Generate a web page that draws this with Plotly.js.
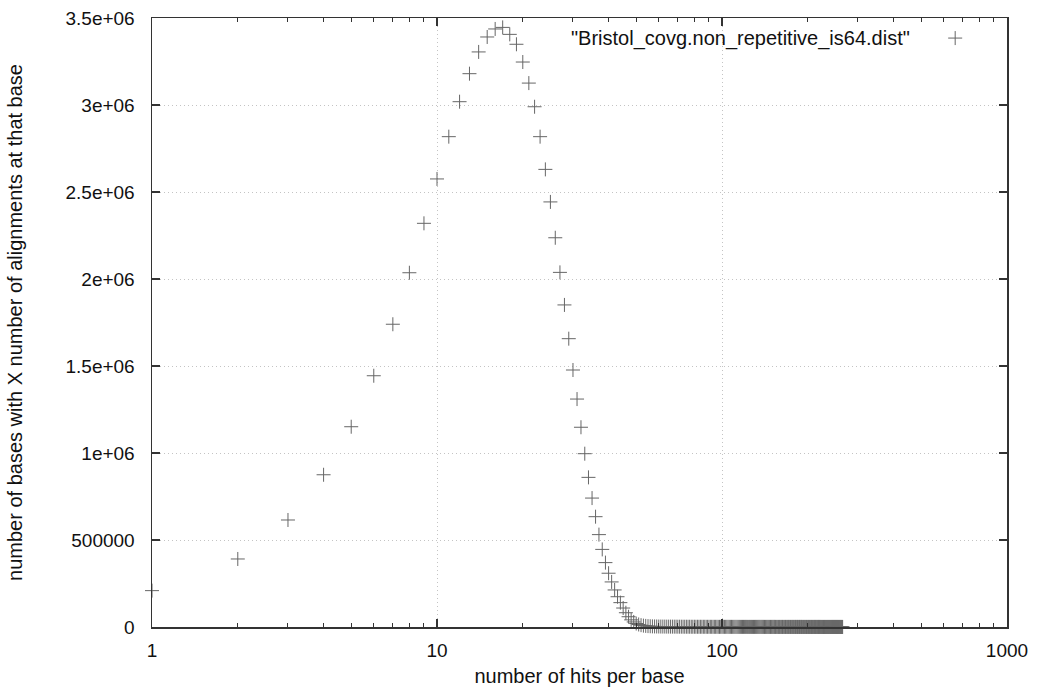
<!DOCTYPE html>
<html>
<head>
<meta charset="utf-8">
<script src="https://cdn.plot.ly/plotly-3.0.1.min.js"></script>
<style>html,body{margin:0;padding:0;background:#fff;}#chart{width:1039px;height:692px;}</style>
</head>
<body>
<div id="chart"></div>
<script>
// number of hits per base (x) — integer coverage values
var hits = [
1,2,3,4,5,6,7,8,9,10,
11,12,13,14,15,16,17,18,19,20,
21,22,23,24,25,26,27,28,29,30,
31,32,33,34,35,36,37,38,39,40,
41,42,43,44,45,46,47,48,49,50,
51,52,53,54,55,56,57,58,59,60,
61,62,63,64,65,66,67,68,69,70,
71,72,73,74,75,76,77,78,79,80,
81,82,83,84,85,86,87,88,89,90,
91,92,93,94,95,96,97,98,99,100,
101,102,103,104,105,106,107,108,109,110,
111,112,113,114,115,116,117,118,119,120,
121,122,123,124,125,126,127,128,129,130,
131,132,133,134,135,136,137,138,139,140,
141,142,143,144,145,146,147,148,149,150,
151,152,153,154,155,156,157,158,159,160,
161,162,163,164,165,166,167,168,169,170,
171,172,173,174,175,176,177,178,179,180,
181,182,183,184,185,186,187,188,189,190,
191,192,193,194,195,196,197,198,199,200,
201,202,203,204,205,206,207,208,209,210,
211,212,213,214,215,216,217,218,219,220,
221,222,223,224,225,226,227,228,229,230,
231,232,233,234,235,236,237,238,239,240,
241,242,243,244,245,246,247,248,249,250,
251,252,253,254,255,256,257,258,259,260,
261,262,263,264,265
];

// number of bases with that many alignments (y)
var bases = [
209000,391000,615000,875000,1151000,1444000,1740000,2036000,2320000,2575000,
2818000,3019000,3180000,3305000,3391000,3437000,3446000,3406000,3349000,3247000,
3126000,2990000,2818000,2630000,2443000,2237000,2038000,1851000,1657000,1477000,
1310000,1148000,996000,860000,741000,634000,531000,446000,370000,309000,
259000,213000,174000,140000,109000,82000,59000,41000,29000,20000,
14500,10500,8000,6300,5100,4300,3700,3300,3000,2750,
2600,2480,2370,2260,2180,2090,2010,1940,1880,1810,
1760,1700,1650,1610,1560,1520,1480,1450,1410,1380,
1350,1320,1290,1260,1240,1210,1190,1170,1140,1120,
1100,1080,1060,1050,1030,1010,990,980,960,950,
935,920,910,895,880,870,860,845,835,825,
815,805,795,785,775,768,760,750,742,735,
728,720,712,705,698,690,684,677,670,664,
658,652,646,640,634,628,623,618,612,607,
602,597,592,587,582,578,573,569,564,560,
556,552,548,544,540,536,532,528,524,521,
517,514,510,507,503,500,497,494,491,488,
485,482,479,476,473,470,467,464,462,459,
456,454,451,449,446,444,441,439,437,434,
432,430,428,425,423,421,419,417,415,413,
411,409,407,405,403,401,399,398,396,394,
392,390,389,387,385,384,382,380,379,377,
376,374,373,371,370,368,367,365,364,362,
361,360,358,357,356,354,353,352,351,349,
348,347,346,344,343,342,341,340,339,337,
336,335,334,333,332,331,330,329,328,327,
326,325,324,323,322
];

var seriesName = '"Bristol_covg.non_repetitive_is64.dist"';

var xTickVals = [1, 10, 100, 1000];
var xTickText = ['1', '10', '100', '1000'];
var xMinorVals = [2,3,4,5,6,7,8,9,20,30,40,50,60,70,80,90,200,300,400,500,600,700,800,900];
var yTickVals = [0, 500000, 1000000, 1500000, 2000000, 2500000, 3000000, 3500000];
var yTickText = ['0', '500000', '1e+06', '1.5e+06', '2e+06', '2.5e+06', '3e+06', '3.5e+06'];

var xTitle = 'number of hits per base';
var yTitle = 'number of bases with X number of alignments at that base';

var FONT = 'Liberation Sans, Arial, Helvetica, sans-serif';
var axisCol = '#333';

var trace = {
  x: hits,
  y: bases,
  type: 'scatter',
  mode: 'markers',
  name: '',
  cliponaxis: false,
  showlegend: true,
  marker: {symbol: 'cross-thin-open', size: 10, color: '#666', line: {color: '#666', width: 1}}
};

var commonAxis = {
  showline: true, linecolor: axisCol, linewidth: 1.5, mirror: 'ticks',
  ticks: 'inside', ticklen: 8, tickwidth: 1.2, tickcolor: axisCol,
  showgrid: true, gridcolor: '#c4c4c4', griddash: '1px,3px', gridwidth: 1,
  zeroline: false,
  tickfont: {family: FONT, size: 19, color: '#111'}
};

var layout = {
  width: 1039, height: 692,
  margin: {l: 152, r: 32, t: 18, b: 65, pad: 0},
  paper_bgcolor: '#fff', plot_bgcolor: '#fff',
  font: {family: FONT, size: 19, color: '#111'},
  showlegend: true,
  legend: {x: 0.916, y: 0.998, xanchor: 'left', yanchor: 'top', bgcolor: 'rgba(0,0,0,0)',
           font: {family: FONT, size: 19, color: '#111'}, itemwidth: 30},
  xaxis: Object.assign({}, commonAxis, {
    type: 'log', range: [0, 3],
    tickmode: 'array', tickvals: xTickVals, ticktext: xTickText,
    ticklabelstandoff: 6,
    minor: {tickmode: 'array', tickvals: xMinorVals, ticks: 'inside', ticklen: 4, tickwidth: 1, tickcolor: axisCol, showgrid: false},
    title: {text: xTitle, font: {family: FONT, size: 20, color: '#111'}, standoff: 8}
  }),
  yaxis: Object.assign({}, commonAxis, {
    range: [0, 3500000],
    tickmode: 'array', tickvals: yTickVals, ticktext: yTickText,
    ticklabelstandoff: 12,
    title: {text: yTitle, font: {family: FONT, size: 20, color: '#111'}, standoff: 37}
  }),
  annotations: [{
    xref: 'paper', yref: 'paper', x: 0.889, y: 0.967, xanchor: 'right', yanchor: 'middle',
    text: seriesName, showarrow: false, font: {family: FONT, size: 20, color: '#111'}
  }]
};

Plotly.newPlot('chart', [trace], layout, {displayModeBar: false, staticPlot: true});
</script>
</body>
</html>
